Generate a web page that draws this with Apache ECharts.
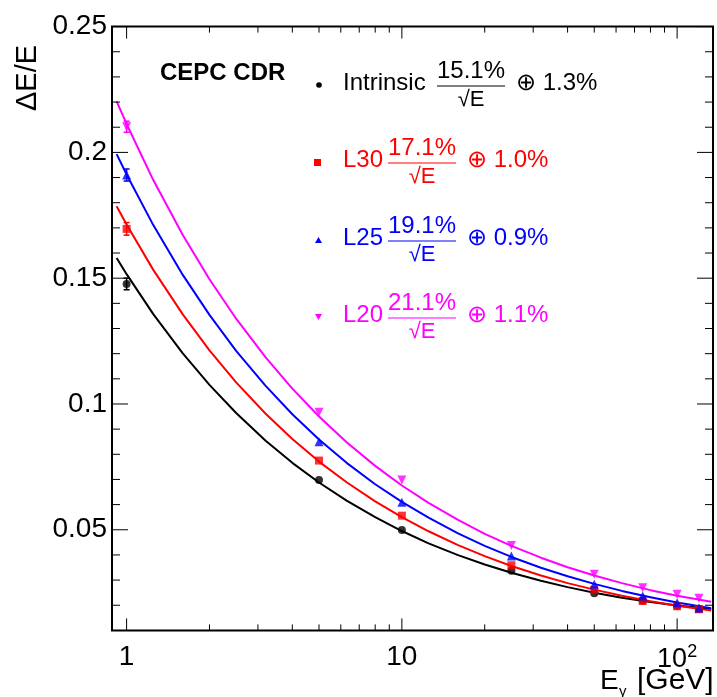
<!DOCTYPE html>
<html><head><meta charset="utf-8">
<script src="https://cdn.jsdelivr.net/npm/echarts@6/dist/echarts.min.js"></script>
<style>html,body{margin:0;padding:0;background:#fff}#c{width:717px;height:697px}</style>
</head><body><div id="c"></div>
<script>
// ---------- data ----------
const energies = [1, 5, 10, 25, 50, 75, 100, 120];
const intrinsic = [0.1477, 0.0698, 0.0499, 0.0337, 0.0248, 0.0218, 0.0197, 0.0186];
const l30 = [0.1696, 0.0775, 0.0556, 0.0359, 0.0261, 0.0217, 0.0196, 0.0184];
const l25 = [0.1910, 0.0850, 0.0609, 0.0396, 0.0283, 0.0237, 0.0210, 0.0189];
const l20 = [0.2102, 0.0967, 0.0698, 0.0437, 0.0323, 0.0270, 0.0244, 0.0228];
const errAt1GeV = [0.0023, 0.0025, 0.0024, 0.0022];

// fitted curves
const fitE = [0.92, 1, 1.25, 1.6, 2, 2.5, 3.2, 4, 5, 6.3, 8, 10, 12.5, 16, 20, 25, 32, 40, 50, 63, 80, 100, 133];
const fitIntrinsic = [0.158, 0.1516, 0.1357, 0.1201, 0.1076, 0.0964, 0.0854, 0.0766, 0.0688, 0.0616, 0.055, 0.0495, 0.0446, 0.0399, 0.0362, 0.0329, 0.0297, 0.0272, 0.025, 0.023, 0.0213, 0.0199, 0.0185];
const fitL30 = [0.1786, 0.1713, 0.1533, 0.1356, 0.1213, 0.1086, 0.0961, 0.0861, 0.0771, 0.0689, 0.0613, 0.055, 0.0494, 0.0439, 0.0395, 0.0356, 0.0318, 0.0288, 0.0262, 0.0238, 0.0216, 0.0198, 0.0179];
const fitL25 = [0.1993, 0.1912, 0.1711, 0.1513, 0.1354, 0.1211, 0.1072, 0.0959, 0.0859, 0.0766, 0.0681, 0.0611, 0.0548, 0.0486, 0.0436, 0.0392, 0.0349, 0.0315, 0.0285, 0.0257, 0.0232, 0.0211, 0.0188];
const fitL20 = [0.2203, 0.2113, 0.189, 0.1672, 0.1496, 0.1339, 0.1185, 0.1061, 0.095, 0.0848, 0.0754, 0.0676, 0.0607, 0.0539, 0.0484, 0.0436, 0.0389, 0.0351, 0.0318, 0.0288, 0.026, 0.0238, 0.0214];

const legendLabels = ['Intrinsic', 'L30', 'L25', 'L20'];
const legendStochastic = ['15.1%', '17.1%', '19.1%', '21.1%'];
const legendConstant = ['1.3%', '1.0%', '0.9%', '1.1%'];

const xMajorTicks = [1, 10, 100];
const xMinorTicks = [2, 3, 4, 5, 6, 7, 8, 9, 20, 30, 40, 50, 60, 70, 80, 90];
const yMajorTicks = [0.05, 0.1, 0.15, 0.2, 0.25];
const yMinorTicks = [0.02, 0.03, 0.04, 0.06, 0.07, 0.08, 0.09, 0.11, 0.12, 0.13, 0.14, 0.16, 0.17, 0.18, 0.19, 0.21, 0.22, 0.23, 0.24];

// ---------- styling ----------
const X_MIN = 0.885, X_MAX = 135, Y_MIN = 0.01, Y_MAX = 0.25;
const FONT = '"Liberation Sans", Arial, Helvetica, sans-serif';
const colors = ['#000000', '#ff0000', '#0000ff', '#ff00ff'];
const symbols = ['circle', 'rect', 'triangle', 'triangle'];
const symbolRot = [0, 0, 0, 180];
const symbolSizes = [8, 8, 9, 9];
const seriesValues = [intrinsic, l30, l25, l20];
const fitValues = [fitIntrinsic, fitL30, fitL25, fitL20];

const chart = echarts.init(document.getElementById('c'), null, {renderer: 'canvas'});

function pairs(xs, ys) { return xs.map((x, i) => [x, ys[i]]); }

const series = [];
// tick marks (ROOT style, inside, all four sides)
series.push({
  type: 'custom', silent: true, clip: false, z: 5,
  data: xMajorTicks.map(v => [v, Y_MIN, 1]).concat(xMinorTicks.map(v => [v, Y_MIN, 0])),
  encode: {x: 0, y: 1},
  renderItem: function (params, api) {
    const cs = params.coordSys;
    const p = api.coord([api.value(0), Y_MIN]);
    const len = api.value(2) ? 12 : 6;
    const st = {stroke: '#000', lineWidth: 1};
    return {type: 'group', children: [
      {type: 'line', shape: {x1: p[0], y1: cs.y + cs.height, x2: p[0], y2: cs.y + cs.height - len}, style: st},
      {type: 'line', shape: {x1: p[0], y1: cs.y, x2: p[0], y2: cs.y + len}, style: st}
    ]};
  }
});
series.push({
  type: 'custom', silent: true, clip: false, z: 5,
  data: yMajorTicks.map(v => [X_MIN, v, 1]).concat(yMinorTicks.map(v => [X_MIN, v, 0])),
  encode: {x: 0, y: 1},
  renderItem: function (params, api) {
    const cs = params.coordSys;
    const p = api.coord([X_MIN, api.value(1)]);
    const len = api.value(2) ? 16 : 8;
    const st = {stroke: '#000', lineWidth: 1};
    return {type: 'group', children: [
      {type: 'line', shape: {x1: cs.x, y1: p[1], x2: cs.x + len, y2: p[1]}, style: st},
      {type: 'line', shape: {x1: cs.x + cs.width, y1: p[1], x2: cs.x + cs.width - len, y2: p[1]}, style: st}
    ]};
  }
});

for (let k = 0; k < 4; k++) {
  series.push({
    type: 'line', data: pairs(fitE, fitValues[k]), smooth: false,
    showSymbol: false, silent: true, z: 2,
    lineStyle: {color: colors[k], width: 2, join: 'round'}
  });
  series.push({
    type: 'scatter', data: pairs(energies, seriesValues[k]), symbol: symbols[k],
    symbolRotate: symbolRot[k], symbolSize: symbolSizes[k], z: 3,
    itemStyle: {color: colors[k]}
  });
  series.push({
    type: 'custom', silent: true, z: 3,
    data: [[energies[0], seriesValues[k][0], errAt1GeV[k]]],
    encode: {x: 0, y: 1},
    renderItem: (function (col) {
      return function (params, api) {
        const x = api.value(0), y = api.value(1), e = api.value(2);
        const hi = api.coord([x, y + e]), lo = api.coord([x, y - e]);
        const st = {stroke: col, lineWidth: 1.5};
        return {type: 'group', children: [
          {type: 'line', shape: {x1: hi[0], y1: hi[1], x2: lo[0], y2: lo[1]}, style: st},
          {type: 'line', shape: {x1: hi[0] - 3, y1: hi[1], x2: hi[0] + 3, y2: hi[1]}, style: st},
          {type: 'line', shape: {x1: lo[0] - 3, y1: lo[1], x2: lo[0] + 3, y2: lo[1]}, style: st}
        ]};
      };
    })(colors[k])
  });
}

// ---------- legend / annotations ----------
const mctx = document.createElement('canvas').getContext('2d');
function tw(s, size, weight) { mctx.font = (weight || 'normal') + ' ' + size + 'px ' + FONT; return mctx.measureText(s).width; }
function txt(x, y, s, color, size, align, weight) {
  return {type: 'text', x: x, y: y, silent: true,
    style: {text: s, fill: color, font: (weight || 'normal') + ' ' + size + 'px ' + FONT,
      textAlign: align || 'left', textVerticalAlign: 'middle'}};
}
const graphic = [];
graphic.push(txt(160, 73, 'CEPC CDR', '#000', 24, 'left', 'bold'));
graphic.push({type: 'text', x: 28, y: 78, rotation: Math.PI / 2, silent: true,
  style: {text: 'ΔE/E', fill: '#000', font: '29px ' + FONT, textAlign: 'center', textVerticalAlign: 'middle'}});
graphic.push(txt(600, 681, 'E', '#000', 28));
graphic.push(txt(619, 692, 'γ', '#000', 15));
graphic.push(txt(637, 681, '[GeV]', '#000', 30));

const rowY = [83, 160, 238, 315];
const numLeft = [437, 388, 388, 388];
const LSZ = 24;
for (let k = 0; k < 4; k++) {
  const y = rowY[k], c = colors[k];
  // marker
  if (k === 0) graphic.push({type: 'circle', silent: true, shape: {cx: 319, cy: y + 2, r: 2.8}, style: {fill: c}});
  if (k === 1) graphic.push({type: 'rect', silent: true, shape: {x: 314, y: y - 1, width: 7, height: 7}, style: {fill: c}});
  if (k === 2) graphic.push({type: 'polygon', silent: true, shape: {points: [[318.5, y - 1], [322, y + 5], [315, y + 5]]}, style: {fill: c}});
  if (k === 3) graphic.push({type: 'polygon', silent: true, shape: {points: [[315, y - 1], [322, y - 1], [318.5, y + 5]]}, style: {fill: c}});
  graphic.push(txt(343, y, legendLabels[k], c, LSZ));
  const wn = tw(legendStochastic[k], LSZ);
  const nl = numLeft[k];
  graphic.push(txt(nl + wn / 2, y - 12, legendStochastic[k], c, LSZ, 'center'));
  graphic.push({type: 'line', silent: true, shape: {x1: nl, y1: y + 3, x2: nl + wn, y2: y + 3}, style: {stroke: c, lineWidth: 1}});
  graphic.push(txt(nl + wn / 2, y + 17, '√E', c, 22, 'center'));
  graphic.push(txt(nl + wn + 11, y, '⊕ ' + legendConstant[k], c, LSZ));
}

const option = {
  backgroundColor: '#fff',
  animation: false,
  grid: {left: 112, right: 4, top: 26.6, height: 603.8, show: true, borderColor: '#000', borderWidth: 2, backgroundColor: 'transparent'},
  xAxis: {
    type: 'log', min: X_MIN, max: X_MAX, logBase: 10,
    axisLine: {show: false}, axisTick: {show: false}, splitLine: {show: false}, minorTick: {show: false},
    axisLabel: {
      margin: 13, color: '#000', fontFamily: FONT, fontSize: 28,
      showMinLabel: true, showMaxLabel: true,
      formatter: function (v) {
        const r = Math.round(Math.log10(v) * 1000) / 1000;
        if (r === 0) return '1';
        if (r === 1) return '10';
        if (r === 2) return '{n|10}{s|2}';
        return '';
      },
      rich: {n: {fontSize: 27, fontFamily: FONT, color: '#000'}, s: {fontSize: 18, fontFamily: FONT, color: '#000', verticalAlign: 'top', padding: [0, 0, 14, 0]}}
    }
  },
  yAxis: {
    type: 'value', min: Y_MIN, max: Y_MAX, interval: 0.01,
    axisLine: {show: false}, axisTick: {show: false}, splitLine: {show: false},
    axisLabel: {
      margin: 5, color: '#000', fontFamily: FONT, fontSize: 28,
      formatter: function (v) {
        if (Math.abs(v * 20 - Math.round(v * 20)) < 1e-6) return String(Math.round(v * 100) / 100);
        return '';
      }
    }
  },
  graphic: graphic,
  series: series
};
chart.setOption(option);
</script>
</body></html>
